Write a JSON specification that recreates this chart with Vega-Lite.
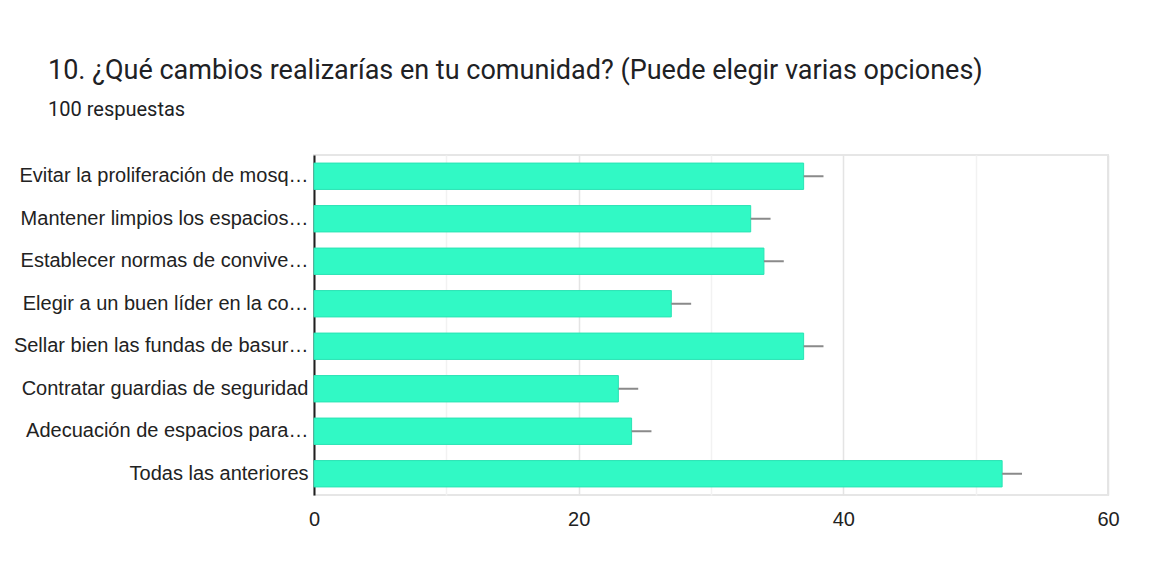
{
  "$schema": "https://vega.github.io/schema/vega-lite/v6.json",
  "autosize": "none",
  "width": 794,
  "height": 340,
  "padding": {"left": 314, "top": 155, "right": 51, "bottom": 93},
  "background": "white",
  "title": {
    "text": "10. ¿Qué cambios realizarías en tu comunidad? (Puede elegir varias opciones)",
    "subtitle": "100 respuestas",
    "anchor": "start",
    "frame": "group",
    "dx": -266,
    "offset": 34,
    "font": "Roboto",
    "fontSize": 27,
    "fontWeight": "normal",
    "color": "#202124",
    "subtitleFont": "Roboto",
    "subtitleFontSize": 20,
    "subtitleColor": "#202124",
    "subtitlePadding": 15
  },
  "data": {
    "values": [
      {"opcion": "Evitar la proliferación de mosq…", "respuestas": 37, "alto": 38.5},
      {"opcion": "Mantener limpios los espacios…", "respuestas": 33, "alto": 34.5},
      {"opcion": "Establecer normas de convive…", "respuestas": 34, "alto": 35.5},
      {"opcion": "Elegir a un buen líder en la co…", "respuestas": 27, "alto": 28.5},
      {"opcion": "Sellar bien las fundas de basur…", "respuestas": 37, "alto": 38.5},
      {"opcion": "Contratar guardias de seguridad", "respuestas": 23, "alto": 24.5},
      {"opcion": "Adecuación de espacios para…", "respuestas": 24, "alto": 25.5},
      {"opcion": "Todas las anteriores", "respuestas": 52, "alto": 53.5}
    ]
  },
  "encoding": {
    "y": {
      "field": "opcion",
      "type": "nominal",
      "sort": null,
      "title": null,
      "scale": {"paddingInner": 0.38, "paddingOuter": 0.19},
      "axis": {
        "domain": true,
        "domainColor": "#202020",
        "domainWidth": 2,
        "ticks": false,
        "grid": false,
        "labelFont": "Liberation Sans",
        "labelFontSize": 20,
        "labelColor": "#222222",
        "labelPadding": 6,
        "labelLimit": 400
      }
    }
  },
  "layer": [
    {
      "mark": {"type": "bar", "fill": "#31f9c5", "stroke": "#2ae3b4", "strokeWidth": 1},
      "encoding": {
        "x": {
          "field": "respuestas",
          "type": "quantitative",
          "title": null,
          "scale": {"domain": [0, 60], "nice": false},
          "axis": {
            "values": [0, 10, 20, 30, 40, 50, 60],
            "labelExpr": "datum.value % 20 === 0 ? datum.label : ''",
            "labelFlush": false,
            "domain": false,
            "ticks": false,
            "grid": true,
            "gridColor": {"condition": {"test": "datum.value % 20 === 0", "value": "#e4e4e4"}, "value": "#f2f2f2"},
            "gridWidth": 1.5,
            "labelFont": "Liberation Sans",
            "labelFontSize": 20,
            "labelColor": "#222222",
            "labelPadding": 14
          }
        }
      }
    },
    {
      "mark": {"type": "rule", "color": "#8a8a8a", "strokeWidth": 2},
      "encoding": {
        "x": {"field": "respuestas", "type": "quantitative"},
        "x2": {"field": "alto"}
      }
    }
  ],
  "config": {
    "view": {"stroke": "#e6e6e6", "strokeWidth": 2}
  }
}
